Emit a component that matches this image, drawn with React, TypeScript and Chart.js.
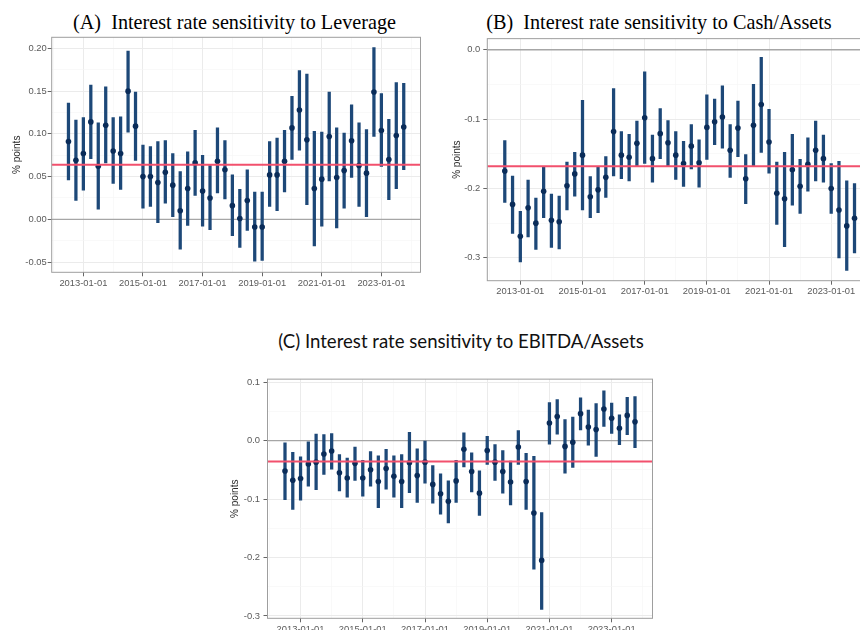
import React, { useEffect, useRef } from "react";
import { Chart, registerables } from "chart.js";

Chart.register(...registerables);

// ---------------- DATA ----------------
const QUARTERS = [
  "2012-07-01", "2012-10-01",
  "2013-01-01", "2013-04-01", "2013-07-01", "2013-10-01",
  "2014-01-01", "2014-04-01", "2014-07-01", "2014-10-01",
  "2015-01-01", "2015-04-01", "2015-07-01", "2015-10-01",
  "2016-01-01", "2016-04-01", "2016-07-01", "2016-10-01",
  "2017-01-01", "2017-04-01", "2017-07-01", "2017-10-01",
  "2018-01-01", "2018-04-01", "2018-07-01", "2018-10-01",
  "2019-01-01", "2019-04-01", "2019-07-01", "2019-10-01",
  "2020-01-01", "2020-04-01", "2020-07-01", "2020-10-01",
  "2021-01-01", "2021-04-01", "2021-07-01", "2021-10-01",
  "2022-01-01", "2022-04-01", "2022-07-01", "2022-10-01",
  "2023-01-01", "2023-04-01", "2023-07-01", "2023-10-01",
];

const X_TICK_LABELS = ["2013-01-01", "2015-01-01", "2017-01-01", "2019-01-01", "2021-01-01", "2023-01-01"];
const X_MIN = 2011.9375;
const X_MAX = 2024.3125;

// (A) Leverage
const LEV_EST = [0.091, 0.069, 0.077, 0.114, 0.062, 0.110, 0.080, 0.077, 0.150, 0.109,
  0.050, 0.050, 0.043, 0.055, 0.040, 0.010, 0.036, 0.066, 0.033, 0.025,
  0.068, 0.058, 0.016, 0.001, 0.022, -0.009, -0.009, 0.052, 0.052, 0.068,
  0.107, 0.128, 0.093, 0.036, 0.047, 0.097, 0.049, 0.057, 0.092, 0.063,
  0.054, 0.149, 0.104, 0.070, 0.098, 0.108];
const LEV_LO = [0.046, 0.022, 0.034, 0.071, 0.012, 0.066, 0.042, 0.035, 0.102, 0.069,
  0.013, 0.015, -0.004, 0.019, 0.003, -0.035, -0.007, 0.028, -0.008, -0.012,
  0.031, 0.024, -0.019, -0.033, -0.013, -0.049, -0.048, 0.015, 0.010, 0.032,
  0.070, 0.081, 0.017, -0.031, -0.008, 0.045, -0.010, 0.013, 0.049, 0.015,
  0.003, 0.097, 0.062, 0.023, 0.036, 0.058];
const LEV_HI = [0.136, 0.116, 0.119, 0.157, 0.113, 0.155, 0.119, 0.120, 0.197, 0.149,
  0.087, 0.085, 0.091, 0.092, 0.077, 0.056, 0.079, 0.104, 0.075, 0.063,
  0.107, 0.092, 0.052, 0.035, 0.058, 0.032, 0.032, 0.091, 0.095, 0.104,
  0.144, 0.174, 0.170, 0.103, 0.102, 0.149, 0.107, 0.101, 0.134, 0.113,
  0.105, 0.201, 0.147, 0.117, 0.160, 0.159];
const LEV_MEAN = 0.064;
const LEV_Y_TICKS = ["-0.05", "0.00", "0.05", "0.10", "0.15", "0.20"];

// (B) Cash/Assets
const CASH_EST = [-0.175, -0.223, -0.269, -0.228, -0.250, -0.204, -0.246, -0.248, -0.196, -0.179,
  -0.152, -0.212, -0.202, -0.184, -0.118, -0.152, -0.155, -0.135, -0.098, -0.157,
  -0.121, -0.134, -0.152, -0.164, -0.139, -0.163, -0.112, -0.104, -0.097, -0.145,
  -0.113, -0.186, -0.109, -0.079, -0.133, -0.207, -0.215, -0.173, -0.197, -0.165,
  -0.145, -0.157, -0.200, -0.231, -0.254, -0.243];
const CASH_LO = [-0.220, -0.265, -0.306, -0.270, -0.288, -0.242, -0.285, -0.287, -0.231, -0.211,
  -0.231, -0.242, -0.235, -0.213, -0.182, -0.186, -0.189, -0.168, -0.164, -0.191,
  -0.157, -0.167, -0.187, -0.197, -0.172, -0.198, -0.158, -0.137, -0.142, -0.184,
  -0.154, -0.222, -0.168, -0.148, -0.178, -0.252, -0.284, -0.224, -0.236, -0.204,
  -0.189, -0.191, -0.236, -0.300, -0.318, -0.293];
const CASH_HI = [-0.131, -0.182, -0.233, -0.188, -0.214, -0.168, -0.208, -0.211, -0.162, -0.148,
  -0.073, -0.183, -0.169, -0.154, -0.056, -0.118, -0.122, -0.103, -0.032, -0.123,
  -0.085, -0.102, -0.118, -0.132, -0.108, -0.130, -0.065, -0.071, -0.052, -0.108,
  -0.074, -0.151, -0.050, -0.011, -0.086, -0.162, -0.148, -0.122, -0.158, -0.127,
  -0.103, -0.123, -0.164, -0.161, -0.189, -0.193];
const CASH_MEAN = -0.168;
const CASH_Y_TICKS = ["-0.3", "-0.2", "-0.1", "0.0"];

// (C) EBITDA/Assets
const EBITDA_EST = [-0.052, -0.068, -0.065, -0.040, -0.037, -0.023, -0.018, -0.055, -0.064, -0.039,
  -0.064, -0.050, -0.070, -0.048, -0.061, -0.070, -0.038, -0.060, -0.037, -0.075,
  -0.091, -0.104, -0.069, -0.015, -0.053, -0.090, -0.017, -0.037, -0.053, -0.071,
  -0.011, -0.070, -0.124, -0.205, 0.030, 0.041, -0.010, -0.003, 0.046, 0.023,
  0.019, 0.054, 0.038, 0.021, 0.043, 0.032];
const EBITDA_LO = [-0.101, -0.118, -0.102, -0.078, -0.084, -0.058, -0.049, -0.086, -0.097, -0.068,
  -0.095, -0.078, -0.115, -0.083, -0.097, -0.115, -0.089, -0.106, -0.073, -0.107,
  -0.126, -0.141, -0.106, -0.045, -0.088, -0.128, -0.041, -0.068, -0.090, -0.110,
  -0.041, -0.118, -0.220, -0.289, -0.006, 0.011, -0.056, -0.046, 0.018, -0.008,
  -0.027, 0.024, 0.012, -0.007, 0.010, -0.012];
const EBITDA_HI = [-0.004, -0.020, -0.028, -0.002, 0.011, 0.010, 0.012, -0.024, -0.030, -0.011,
  -0.034, -0.019, -0.026, -0.015, -0.026, -0.024, 0.014, -0.014, -0.001, -0.043,
  -0.057, -0.069, -0.034, 0.013, -0.021, -0.052, 0.007, -0.007, -0.017, -0.035,
  0.017, -0.022, -0.027, -0.123, 0.065, 0.070, 0.036, 0.040, 0.073, 0.052,
  0.063, 0.085, 0.064, 0.044, 0.074, 0.075];
const EBITDA_MEAN = -0.036;
const EBITDA_Y_TICKS = ["-0.3", "-0.2", "-0.1", "0.0", "0.1"];

// ---------------- STYLE ----------------
const BAR_COLOR = "#1d4878";
const POINT_COLOR = "#0a2c59";
const RED = "#f2506d";
const ZERO_COLOR = "#a6a6a6";
const GRID_MAJOR = "#ebebeb";
const GRID_MINOR = "#f5f5f5";
const BORDER_COLOR = "#9e9e9e";
const TICK_MARK = "#666666";
const TICK_TEXT = "#5a5a5a";
const SANS = "'Liberation Sans', Arial, sans-serif";

function toYear(s: string): number {
  const [y, m, d] = s.split("-").map(Number);
  return y + (m - 1) / 12 + (d - 1) / 365;
}

const panelBorder = {
  id: "panelBorder",
  afterDraw(chart: any) {
    const { ctx, chartArea } = chart;
    ctx.save();
    ctx.strokeStyle = BORDER_COLOR;
    ctx.lineWidth = 1;
    ctx.strokeRect(chartArea.left, chartArea.top, chartArea.right - chartArea.left, chartArea.bottom - chartArea.top);
    ctx.restore();
  },
};

type PanelProps = {
  est: number[]; lo: number[]; hi: number[]; mean: number;
  yTicks: string[]; yMin: number; yMax: number;
  left: number; top: number; width: number; height: number;
  padTop: number; padRight: number; yWidth: number; xHeight: number;
  yTitleX: number; yTickPad: number;
};

function Panel(p: PanelProps) {
  const ref = useRef<HTMLCanvasElement>(null);
  useEffect(() => {
    if (!ref.current) return;
    const xs = QUARTERS.map(toYear);
    const xMajor = X_TICK_LABELS.map(toYear);
    const xStep = xMajor[1] - xMajor[0];
    const xMinor = [xMajor[0] - xStep / 2, ...xMajor.map((v) => v + xStep / 2)].filter((v) => v >= X_MIN && v <= X_MAX);
    const xAll = [...xMajor, ...xMinor].sort((a, b) => a - b);
    const isXMajor = (v: number) => xMajor.some((m) => Math.abs(m - v) < 1e-6);
    const xLabel = (v: number) => {
      const i = xMajor.findIndex((m) => Math.abs(m - v) < 1e-6);
      return i >= 0 ? X_TICK_LABELS[i] : "";
    };

    const yMajor = p.yTicks.map(Number);
    const yStep = yMajor[1] - yMajor[0];
    const yMinor = [yMajor[0] - yStep / 2, ...yMajor.map((v) => v + yStep / 2)].filter((v) => v >= p.yMin && v <= p.yMax);
    const yAll = [...yMajor, ...yMinor].sort((a, b) => a - b);
    const isYMajor = (v: number) => yMajor.some((m) => Math.abs(m - v) < 1e-9);
    const yLabel = (v: number) => {
      const i = yMajor.findIndex((m) => Math.abs(m - v) < 1e-9);
      return i >= 0 ? p.yTicks[i] : "";
    };

    const chart = new Chart(ref.current, {
      type: "bar",
      data: {
        datasets: [
          {
            type: "line",
            data: [{ x: X_MIN, y: p.mean }, { x: X_MAX, y: p.mean }],
            borderColor: RED, borderWidth: 2, pointRadius: 0, order: 0,
          } as any,
          {
            type: "scatter",
            data: xs.map((x, i) => ({ x, y: p.est[i] })),
            backgroundColor: POINT_COLOR, borderWidth: 0, pointRadius: 2.8, order: 1,
          } as any,
          {
            type: "bar",
            data: xs.map((x, i) => ({ x, y: [p.lo[i], p.hi[i]] })),
            backgroundColor: BAR_COLOR, barThickness: 2.6, borderWidth: 0, order: 2,
          } as any,
          {
            type: "line",
            data: [{ x: X_MIN, y: 0 }, { x: X_MAX, y: 0 }],
            borderColor: ZERO_COLOR, borderWidth: 1.3, pointRadius: 0, order: 3,
          } as any,
        ],
      },
      options: {
        responsive: false,
        animation: false,
        devicePixelRatio: 1,
        layout: { padding: { left: 0, right: p.padRight, top: p.padTop, bottom: 0 } },
        plugins: { legend: { display: false }, tooltip: { enabled: false }, title: { display: false } },
        scales: {
          x: {
            type: "linear",
            min: X_MIN,
            max: X_MAX,
            offset: false,
            afterBuildTicks: (s: any) => { s.ticks = xAll.map((v) => ({ value: v })); },
            afterFit: (s: any) => { s.height = p.xHeight; },
            ticks: {
              autoSkip: false, maxRotation: 0, minRotation: 0, padding: 1.5,
              color: TICK_TEXT, font: { family: SANS, size: 9.4 },
              callback: (v: any) => xLabel(Number(v)),
            },
            grid: {
              offset: false,
              color: (c: any) => (isXMajor(c.tick.value) ? GRID_MAJOR : GRID_MINOR),
              lineWidth: (c: any) => (isXMajor(c.tick.value) ? 1 : 0.6),
              tickColor: (c: any) => (isXMajor(c.tick.value) ? TICK_MARK : "rgba(0,0,0,0)"),
              tickLength: 4,
              drawTicks: true,
            },
            border: { display: false },
          } as any,
          y: {
            type: "linear",
            min: p.yMin,
            max: p.yMax,
            afterBuildTicks: (s: any) => { s.ticks = yAll.map((v) => ({ value: v })); },
            afterFit: (s: any) => { s.width = p.yWidth; },
            ticks: {
              autoSkip: false, padding: p.yTickPad,
              color: TICK_TEXT, font: { family: SANS, size: 9.4 },
              callback: (v: any) => yLabel(Number(v)),
            },
            grid: {
              color: (c: any) => (isYMajor(c.tick.value) ? GRID_MAJOR : GRID_MINOR),
              lineWidth: (c: any) => (isYMajor(c.tick.value) ? 1 : 0.6),
              tickColor: (c: any) => (isYMajor(c.tick.value) ? TICK_MARK : "rgba(0,0,0,0)"),
              tickLength: 4,
              drawTicks: true,
            },
            border: { display: false },
            title: {
              display: true, text: "% points", color: "#2a2a2a",
              font: { family: SANS, size: 10 },
              padding: { top: p.yTitleX - 6, bottom: 0 },
            },
          } as any,
        },
      },
      plugins: [panelBorder],
    });
    return () => chart.destroy();
  }, []);
  return (
    <canvas
      ref={ref}
      width={p.width}
      height={p.height}
      style={{ position: "absolute", left: p.left, top: p.top, width: p.width, height: p.height, display: "block" }}
    />
  );
}

const serifTitle: React.CSSProperties = {
  position: "absolute",
  whiteSpace: "nowrap",
  fontFamily: "'Liberation Serif', 'Times New Roman', serif",
  fontSize: 20.2,
  lineHeight: "20px",
  color: "#000",
  transform: "translateX(-50%)",
};

export default function App() {
  return (
    <div style={{ position: "absolute", left: 0, top: 0, width: 860, height: 630, overflow: "hidden", background: "#fff" }}>
      <div style={{ ...serifTitle, left: 234.5, top: 11.5 }}>(A)&nbsp; Interest rate sensitivity to Leverage</div>
      <div style={{ ...serifTitle, left: 659, top: 11.5 }}>(B)&nbsp; Interest rate sensitivity to Cash/Assets</div>
      <div
        style={{
          position: "absolute", whiteSpace: "nowrap", left: 461, top: 332, transform: "translateX(-50%)",
          fontFamily: "Lato, 'Open Sans', sans-serif", fontSize: 18.6, lineHeight: "18px", color: "#111",
        }}
      >
        (C) Interest rate sensitivity to EBITDA/Assets
      </div>
      <Panel
        est={LEV_EST} lo={LEV_LO} hi={LEV_HI} mean={LEV_MEAN}
        yTicks={LEV_Y_TICKS} yMin={-0.062} yMax={0.213}
        left={0} top={30} width={430} height={270}
        padTop={7.3} padRight={9.5} yWidth={51.7} xHeight={27.7} yTitleX={17} yTickPad={1}
      />
      <Panel
        est={CASH_EST} lo={CASH_LO} hi={CASH_HI} mean={CASH_MEAN}
        yTicks={CASH_Y_TICKS} yMin={-0.333} yMax={0.016}
        left={430} top={30} width={446} height={275}
        padTop={7.3} padRight={3.8} yWidth={57.3} xHeight={24.3} yTitleX={27.5} yTickPad={3}
      />
      <Panel
        est={EBITDA_EST} lo={EBITDA_LO} hi={EBITDA_HI} mean={EBITDA_MEAN}
        yTicks={EBITDA_Y_TICKS} yMin={-0.304} yMax={0.105}
        left={220} top={370} width={440} height={260}
        padTop={6} padRight={7.5} yWidth={47.5} xHeight={11.7} yTitleX={15.7} yTickPad={3.5}
      />
    </div>
  );
}
